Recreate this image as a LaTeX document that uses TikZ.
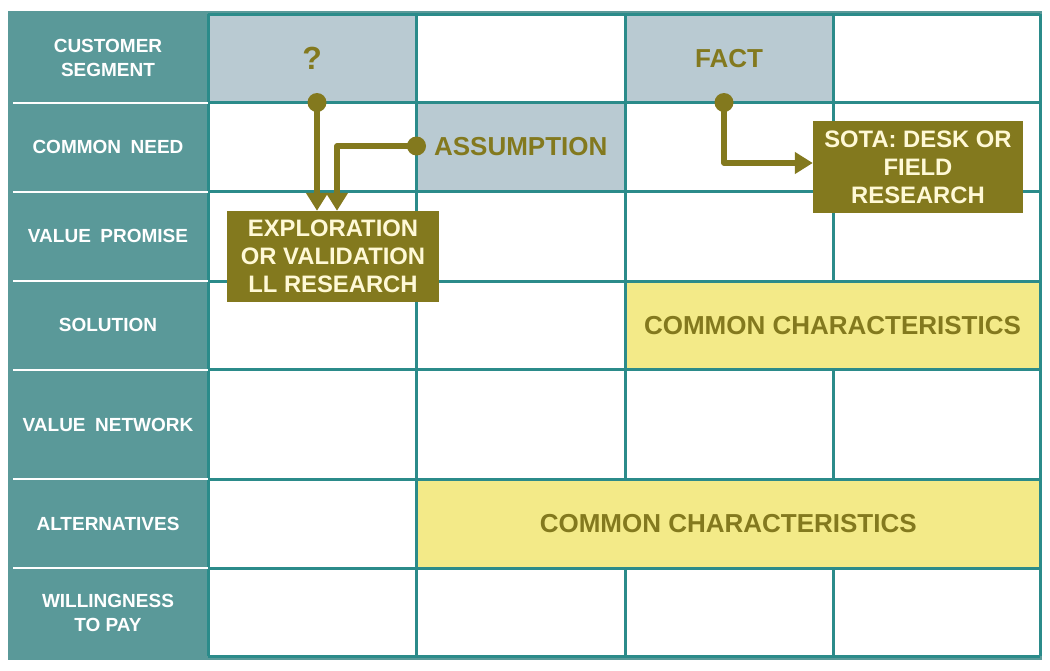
\documentclass[tikz,border=0pt]{standalone}
\usepackage{fontspec}
\setmainfont{Liberation Sans}
\usetikzlibrary{positioning,arrows.meta}

\definecolor{frameteal}{RGB}{90,153,153}
\definecolor{gridteal}{RGB}{43,139,138}
\definecolor{cellgray}{RGB}{185,202,210}
\definecolor{cellyellow}{RGB}{243,234,136}
\definecolor{olivebox}{RGB}{131,121,30}
\definecolor{cream}{RGB}{255,249,214}

\tikzset{
  cell/.style={inner sep=0pt,text=olivebox,font=\bfseries\fontsize{26}{28}\selectfont},
  rowlabel/.style={text=white,align=center,font=\bfseries\fontsize{19}{24}\selectfont},
  resbox/.style={fill=olivebox,text=cream,align=center,inner sep=0pt,font=\bfseries\fontsize{23.8}{28}\selectfont},
  gridline/.style={draw=gridteal,line width=3pt},
  sepline/.style={draw=white,line width=2pt},
  conn/.style={draw=olivebox,line width=5.5pt,line join=round,-{Triangle[width=21pt,length=18pt]}}
}

\begin{document}
\begin{tikzpicture}[x=1pt,y=-1pt]
  \useasboundingbox (0,0) rectangle (1050,670);

  \fill[frameteal] (8,11) rectangle (1042,660);
  \fill[white] (208,14) rectangle (1040,656);

  \node[cell,fill=cellgray,minimum width=208.5pt,minimum height=88.5pt,font=\bfseries\fontsize{32}{34}\selectfont] at(312.25,58.25)(q){?};
  \node[cell,fill=cellgray,minimum width=208pt,minimum height=88.5pt] at(729,58.25)(fact){FACT};
  \node[cell,fill=cellgray,minimum width=208.5pt,minimum height=89pt] at(520.75,147)(assume){ASSUMPTION};
  \node[cell,fill=cellyellow,minimum width=415pt,minimum height=88.5pt] at(832.5,325.25)(solchar){COMMON CHARACTERISTICS};
  \node[cell,fill=cellyellow,minimum width=623.5pt,minimum height=89pt] at(728.25,523.5)(altchar){COMMON CHARACTERISTICS};

  \draw [gridline](208,14) -- (1040,14);
  \draw [gridline](208,102.5) -- (1040,102.5);
  \draw [gridline](208,191.5) -- (1040,191.5);
  \draw [gridline](208,281) -- (1040,281);
  \draw [gridline](208,369.5) -- (1040,369.5);
  \draw [gridline](208,479) -- (1040,479);
  \draw [gridline](208,568) -- (1040,568);
  \draw [gridline](208,656) -- (1040,656);

  \draw [gridline](208,14) -- (208,656);
  \draw [gridline](416.5,14) -- (416.5,656);
  \draw [gridline](625,14) -- (625,479);
  \draw [gridline](625,568) -- (625,656);
  \draw [gridline](833,14) -- (833,281);
  \draw [gridline](833,369.5) -- (833,479);
  \draw [gridline](833,568) -- (833,656);
  \draw [gridline](1040,14) -- (1040,656);

  \draw [sepline](13,102.5) -- (208,102.5);
  \draw [sepline](13,191.5) -- (208,191.5);
  \draw [sepline](13,281) -- (208,281);
  \draw [sepline](13,369.5) -- (208,369.5);
  \draw [sepline](13,479) -- (208,479);
  \draw [sepline](13,568) -- (208,568);

  \node[rowlabel] at(108,58)(segment){CUSTOMER\\SEGMENT};
  \node[rowlabel] at(108,147)(need){COMMON\enspace NEED};
  \node[rowlabel] at(108,236)(promise){VALUE\enspace PROMISE};
  \node[rowlabel] at(108,325)(solution){SOLUTION};
  \node[rowlabel] at(108,425)(network){VALUE\enspace NETWORK};
  \node[rowlabel] at(108,524)(alternatives){ALTERNATIVES};
  \node[rowlabel] at(108,613)(pay){WILLINGNESS\\TO PAY};

  \node[resbox,minimum width=212pt,minimum height=91pt] at(333,256.5)(explore){EXPLORATION\\OR VALIDATION\\LL RESEARCH};
  \node[resbox,minimum width=210pt,minimum height=92pt] at(918,167)(sota){SOTA: DESK OR\\FIELD\\RESEARCH};

  \coordinate (qdot) at (317,102.5);
  \coordinate (adot) at (416.5,146);
  \coordinate (fdot) at (724,102.5);

  \draw [conn](qdot) -- (qdot |- explore.north);
  \draw [conn](adot) -| ([xshift=4pt]explore.north);
  \draw [conn](fdot) |- ([yshift=4pt]sota.west);

  \fill[olivebox] (qdot) circle[radius=9.5pt];
  \fill[olivebox] (adot) circle[radius=9.5pt];
  \fill[olivebox] (fdot) circle[radius=9.5pt];

\end{tikzpicture}
\end{document}
